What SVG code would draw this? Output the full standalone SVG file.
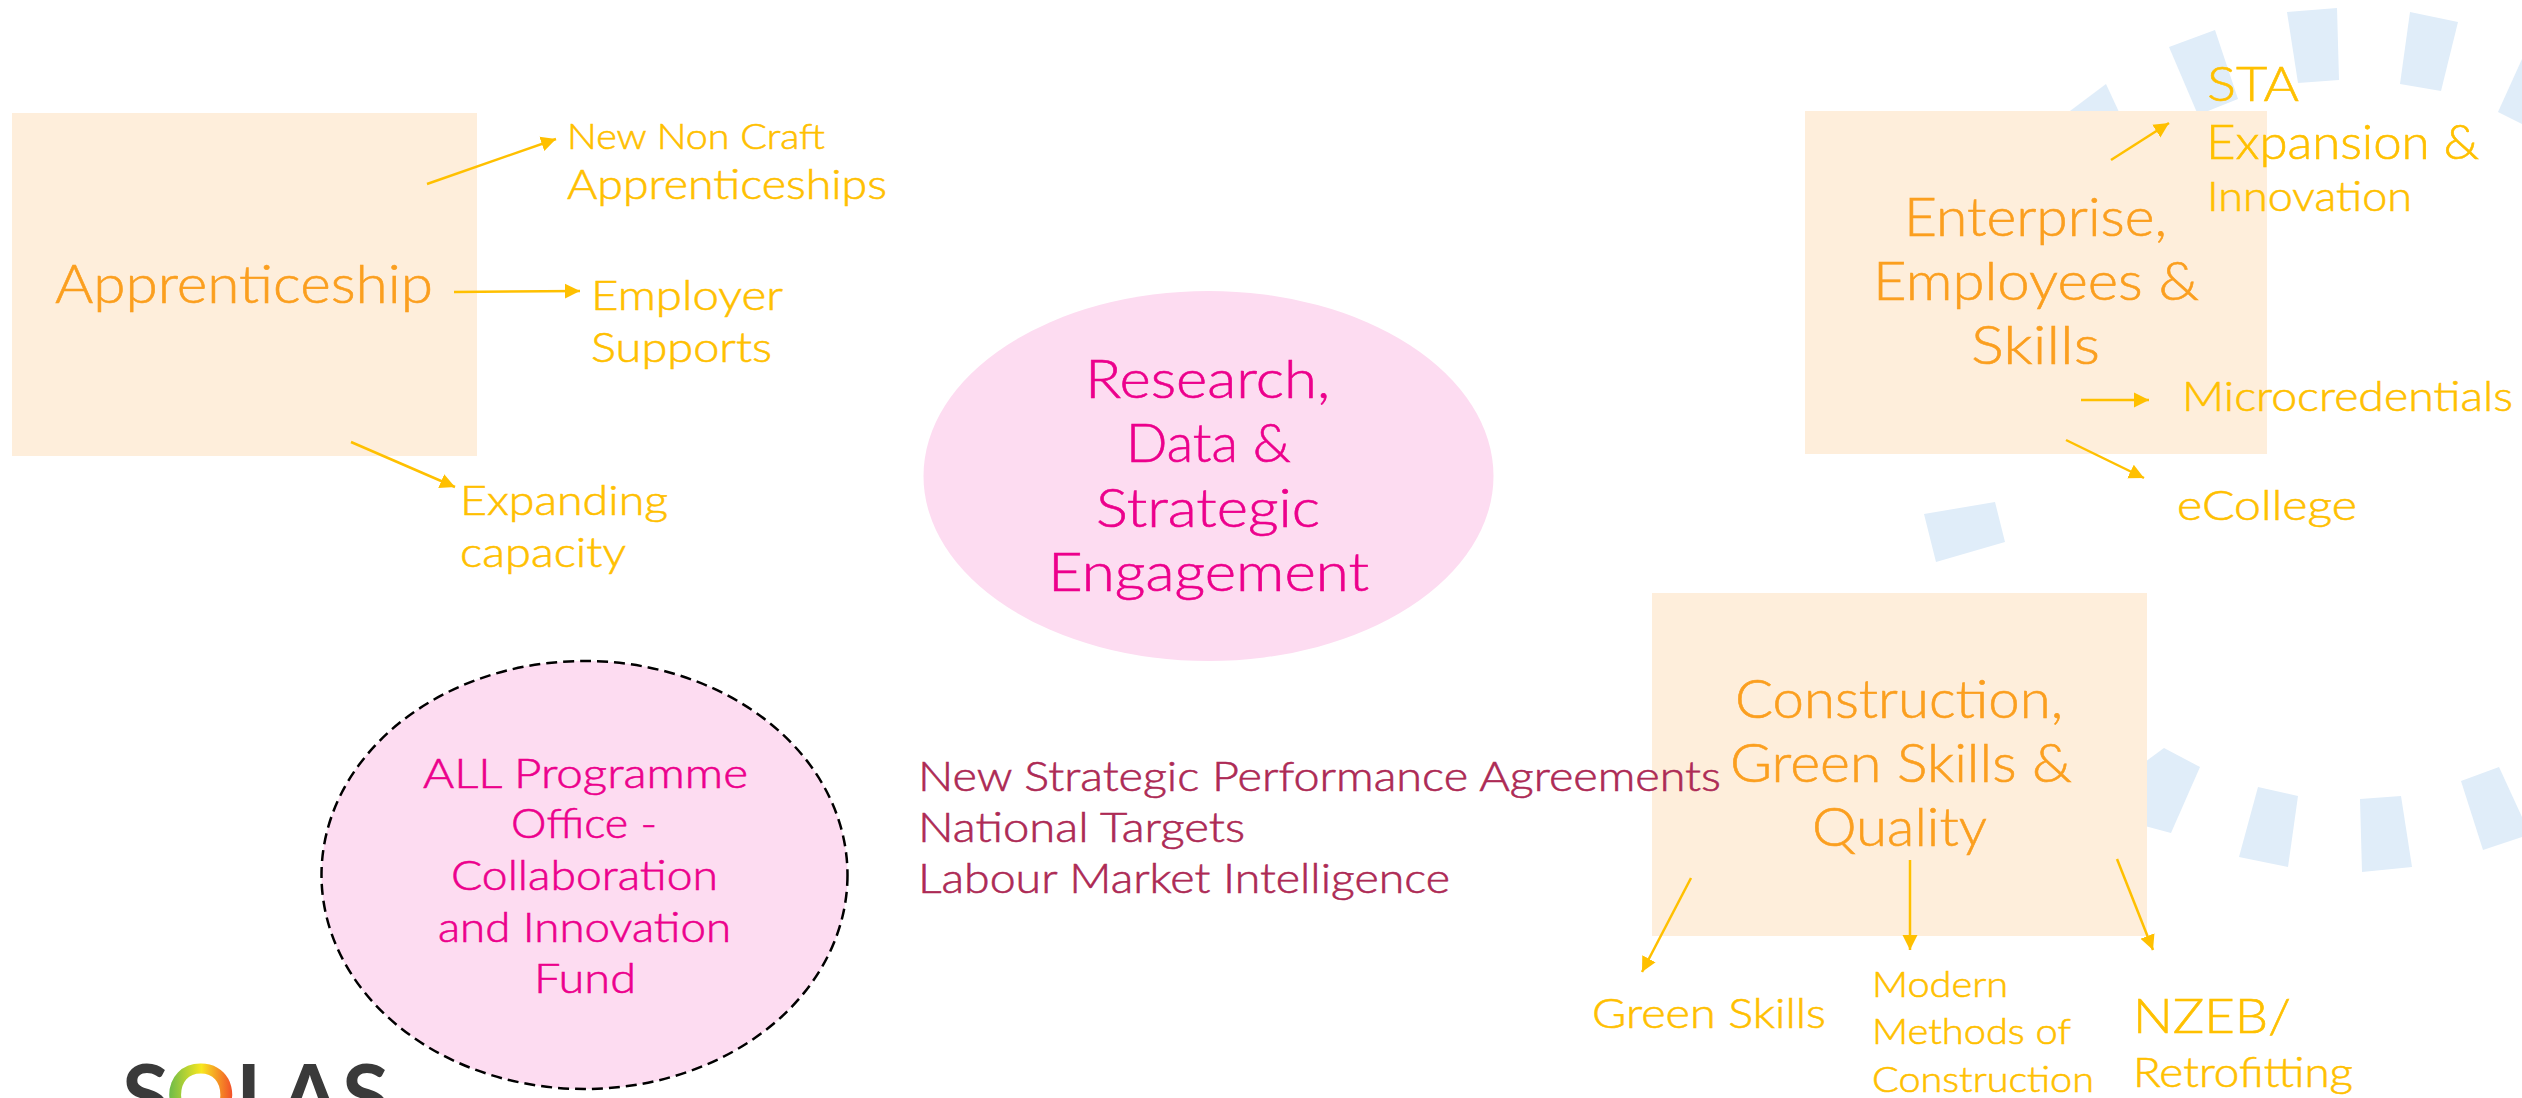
<svg xmlns="http://www.w3.org/2000/svg" width="2522" height="1098" viewBox="0 0 2522 1098">
<style>
text{font-family:"Lato","Open Sans","Liberation Sans",sans-serif;font-weight:300;stroke-width:0.6px}
.box{fill:#feeedb}
.oval{fill:#fddcf1}
.blue{fill:#e0edf9}
.h{fill:#fb9f1f;stroke:#fb9f1f;font-size:53px}
.leaf{fill:#ffc000;stroke:#ffc000;font-size:41px}
.leaf2{fill:#ffc000;stroke:#ffc000;font-size:48px}
.leaf3{fill:#ffc000;stroke:#ffc000;font-size:36px}
.m{fill:#ec008c;stroke:#ec008c;font-size:53px}
.ms{fill:#ec008c;stroke:#ec008c;font-size:41px}
.r{fill:#ad2a55;stroke:#ad2a55;font-size:41px}
text.logo{font-weight:700;font-size:86px;fill:#3a3a3a;stroke:none}
text.ring-o{fill:url(#rainbow)}
.c{fill:none;stroke:#ffc000;stroke-width:2.5;marker-end:url(#arrow)}
</style>
<defs>
<marker id="arrow" markerUnits="userSpaceOnUse" markerWidth="16" markerHeight="16" refX="15" refY="8" orient="auto">
<path d="M0 0.5L15 8L0 15.5Z" fill="#ffc000"/>
</marker>
<linearGradient id="rainbow" gradientUnits="userSpaceOnUse" x1="169" y1="1080" x2="234" y2="1080">
<stop offset="0" stop-color="#6cbb4a"/><stop offset="0.5" stop-color="#f8e71f"/><stop offset="1" stop-color="#f2472a"/>
</linearGradient>
</defs>
<rect width="2522" height="1098" fill="#ffffff"/>
<g id="ring">
<polygon class="blue" points="2070,111 2106,84 2125,125 2070,125"/>
<polygon class="blue" points="2169,47 2215,30 2238,99 2198,115"/>
<polygon class="blue" points="2287,12 2337,8 2339,80 2298,83"/>
<polygon class="blue" points="2410,12 2458,22 2441,91 2400,84"/>
<polygon class="blue" points="2522,59 2498,112 2522,124"/>
<polygon class="blue" points="1924,514 1995,502 2005,542 1936,562"/>
<polygon class="blue" points="2130,773 2164,748 2200,767 2171,833 2130,822"/>
<polygon class="blue" points="2258,787 2298,796 2288,867 2239,857"/>
<polygon class="blue" points="2360,799 2401,796 2412,867 2362,872"/>
<polygon class="blue" points="2461,781 2499,767 2522,817 2522,837 2483,850"/>
</g>
<g id="apprenticeship">
<rect class="box" x="12" y="113" width="465" height="343"/>
<text class="h" x="55" y="303" textLength="378" lengthAdjust="spacingAndGlyphs">Apprenticeship</text>
</g>
<g id="enterprise">
<rect class="box" x="1805" y="111" width="462" height="343"/>
<text class="h" x="1904" y="236" textLength="263" lengthAdjust="spacingAndGlyphs">Enterprise,</text>
<text class="h" x="1873" y="300" textLength="326" lengthAdjust="spacingAndGlyphs">Employees &amp;</text>
<text class="h" x="1971" y="364" textLength="129" lengthAdjust="spacingAndGlyphs">Skills</text>
</g>
<g id="construction">
<rect class="box" x="1652" y="593" width="495" height="343"/>
<text class="h" x="1735" y="718" textLength="328" lengthAdjust="spacingAndGlyphs">Construction,</text>
<text class="h" x="1730" y="782" textLength="342" lengthAdjust="spacingAndGlyphs">Green Skills &amp;</text>
<text class="h" x="1812" y="846" textLength="175" lengthAdjust="spacingAndGlyphs">Quality</text>
</g>
<g id="research">
<ellipse class="oval" cx="1208.500" cy="476" rx="285" ry="185"/>
<text class="m" x="1085" y="398" textLength="245" lengthAdjust="spacingAndGlyphs">Research,</text>
<text class="m" x="1126" y="462" textLength="165" lengthAdjust="spacingAndGlyphs">Data &amp;</text>
<text class="m" x="1096" y="527" textLength="224" lengthAdjust="spacingAndGlyphs">Strategic</text>
<text class="m" x="1048" y="591" textLength="321" lengthAdjust="spacingAndGlyphs">Engagement</text>
</g>
<g id="programme-office">
<ellipse class="oval" cx="584.500" cy="875" rx="263" ry="214" stroke="#000000" stroke-width="2.500" stroke-dasharray="11 6"/>
<text class="ms" x="423" y="788" textLength="325" lengthAdjust="spacingAndGlyphs">ALL Programme</text>
<text class="ms" x="511" y="838" textLength="146" lengthAdjust="spacingAndGlyphs">Office -</text>
<text class="ms" x="451" y="890" textLength="267" lengthAdjust="spacingAndGlyphs">Collaboration</text>
<text class="ms" x="438" y="942" textLength="293" lengthAdjust="spacingAndGlyphs">and Innovation</text>
<text class="ms" x="534" y="993" textLength="102" lengthAdjust="spacingAndGlyphs">Fund</text>
</g>
<g id="targets">
<text class="r" x="918" y="791" textLength="803" lengthAdjust="spacingAndGlyphs">New Strategic Performance Agreements</text>
<text class="r" x="918" y="842" textLength="327" lengthAdjust="spacingAndGlyphs">National Targets</text>
<text class="r" x="918" y="893" textLength="532" lengthAdjust="spacingAndGlyphs">Labour Market Intelligence</text>
</g>
<g id="leaf-non-craft">
<text class="leaf3" x="567" y="149" textLength="258" lengthAdjust="spacingAndGlyphs">New Non Craft</text>
<text class="leaf" x="567" y="199" textLength="320" lengthAdjust="spacingAndGlyphs">Apprenticeships</text>
</g>
<g id="leaf-employer">
<text class="leaf" x="591" y="310" textLength="192" lengthAdjust="spacingAndGlyphs">Employer</text>
<text class="leaf" x="591" y="362" textLength="181" lengthAdjust="spacingAndGlyphs">Supports</text>
</g>
<g id="leaf-capacity">
<text class="leaf" x="460" y="515" textLength="208" lengthAdjust="spacingAndGlyphs">Expanding</text>
<text class="leaf" x="460" y="567" textLength="166" lengthAdjust="spacingAndGlyphs">capacity</text>
</g>
<g id="leaf-sta">
<text class="leaf2" x="2207" y="101" textLength="92" lengthAdjust="spacingAndGlyphs">STA</text>
<text class="leaf2" x="2206" y="159" textLength="273" lengthAdjust="spacingAndGlyphs">Expansion &amp;</text>
<text class="leaf" x="2207" y="211" textLength="205" lengthAdjust="spacingAndGlyphs">Innovation</text>
</g>
<g id="leaf-micro">
<text class="leaf" x="2182" y="411" textLength="331" lengthAdjust="spacingAndGlyphs">Microcredentials</text>
</g>
<g id="leaf-ecollege">
<text class="leaf" x="2177" y="520" textLength="180" lengthAdjust="spacingAndGlyphs">eCollege</text>
</g>
<g id="leaf-green">
<text class="leaf" x="1592" y="1028" textLength="234" lengthAdjust="spacingAndGlyphs">Green Skills</text>
</g>
<g id="leaf-mmc">
<text class="leaf3" x="1872" y="997" textLength="136" lengthAdjust="spacingAndGlyphs">Modern</text>
<text class="leaf3" x="1872" y="1044" textLength="199" lengthAdjust="spacingAndGlyphs">Methods of</text>
<text class="leaf3" x="1872" y="1092" textLength="222" lengthAdjust="spacingAndGlyphs">Construction</text>
</g>
<g id="leaf-nzeb">
<text class="leaf2" x="2133" y="1033" textLength="158" lengthAdjust="spacingAndGlyphs">NZEB/</text>
<text class="leaf" x="2133" y="1087" textLength="220" lengthAdjust="spacingAndGlyphs">Retrofitting</text>
</g>
<g id="connectors">
<line class="c" x1="427" y1="184" x2="556" y2="139"/>
<line class="c" x1="454" y1="292" x2="580" y2="291"/>
<line class="c" x1="351" y1="442" x2="455" y2="487"/>
<line class="c" x1="2111" y1="160" x2="2169" y2="123"/>
<line class="c" x1="2081" y1="400" x2="2149" y2="400"/>
<line class="c" x1="2066" y1="440" x2="2144" y2="478"/>
<line class="c" x1="1691" y1="878" x2="1642" y2="972"/>
<line class="c" x1="1910" y1="860" x2="1910" y2="950"/>
<line class="c" x1="2117" y1="859" x2="2153" y2="950"/>
</g>
<g id="logo">
<text class="logo" x="122" y="1126">S</text>
<text class="logo ring-o" x="166" y="1126">O</text>
<text class="logo" x="236" y="1126">L</text>
<text class="logo" x="280" y="1126">A</text>
<text class="logo" x="342" y="1126">S</text>
</g>
</svg>
